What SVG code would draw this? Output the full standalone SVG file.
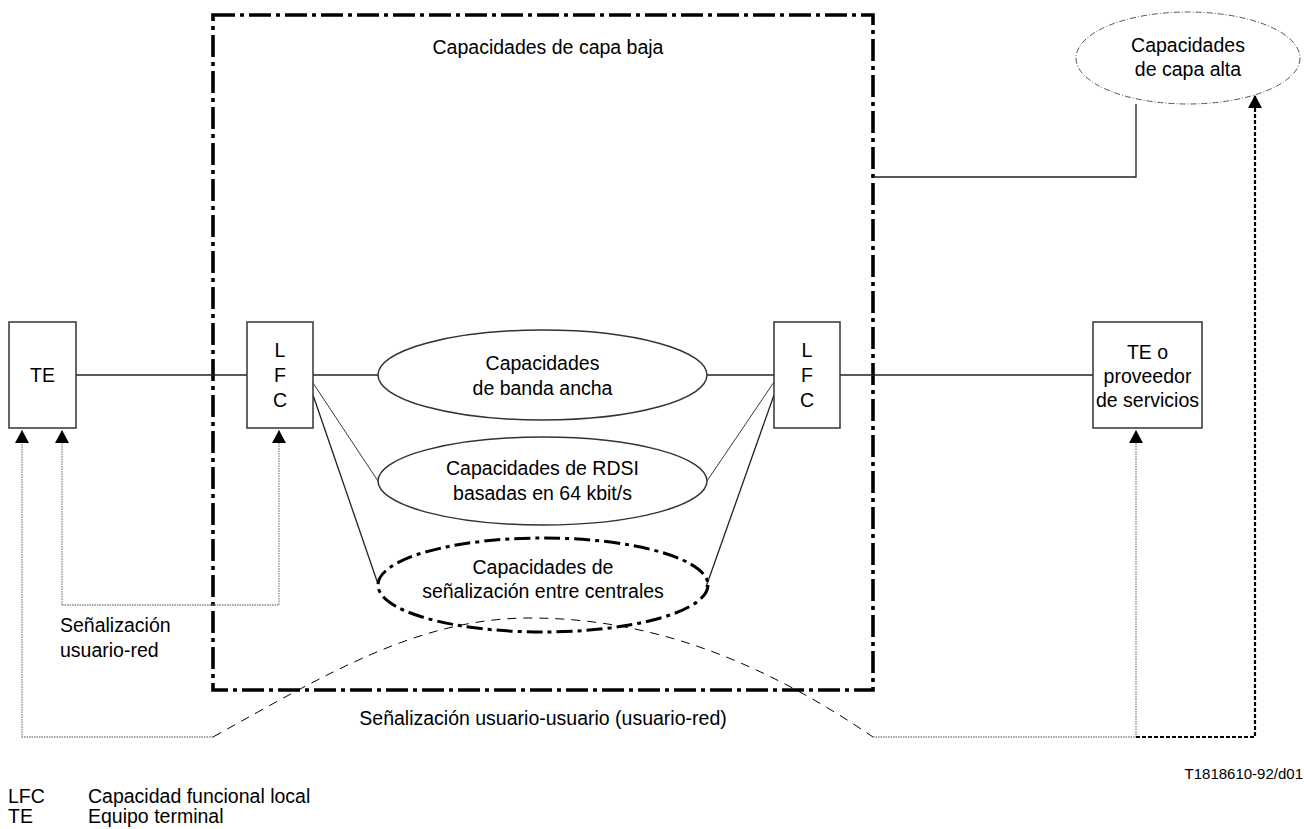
<svg xmlns="http://www.w3.org/2000/svg" width="1304" height="829" viewBox="0 0 1304 829">
<defs>
<marker id="ah" markerUnits="userSpaceOnUse" markerWidth="14" markerHeight="14" viewBox="0 0 14 14" refX="13" refY="7" orient="auto">
<path d="M0,0 L13,7 L0,14 Z" fill="#000"/>
</marker>
<style>
text{font-family:"Liberation Sans",Arial,sans-serif;font-size:19.5px;fill:#000}
.c{text-anchor:middle}
.box{fill:#fff;stroke:#333;stroke-width:1.5}
.ln{fill:none;stroke:#222;stroke-width:1.3}
.thin{fill:none;stroke:#222;stroke-width:0.9}
.dot{fill:none;stroke:#888;stroke-width:1.3;stroke-dasharray:1.5 1}
.dash{fill:none;stroke:#000;stroke-width:1;stroke-dasharray:9 7}
.bdash{fill:none;stroke:#000;stroke-width:2.2;stroke-dasharray:4 2}
.dd{fill:none;stroke:#000;stroke-width:3.6;stroke-dasharray:22 5 4 5}
.dde{fill:none;stroke:#000;stroke-width:3;stroke-dasharray:16 5 4 5}
.ddthin{fill:#fff;stroke:#555;stroke-width:1;stroke-dasharray:6 2 1 2}
</style>
</defs>
<rect width="1304" height="829" fill="#fff"/>

<g id="lowlayer">
<rect x="213" y="15" width="660" height="675" class="dd"/>
<text class="c" x="548" y="54">Capacidades de capa baja</text>
</g>

<g id="connectors">
<line x1="76" y1="375" x2="247" y2="375" class="ln"/>
<line x1="313" y1="375" x2="378" y2="375" class="ln"/>
<line x1="707" y1="375" x2="774" y2="375" class="ln"/>
<line x1="840" y1="375" x2="1093" y2="375" class="ln"/>
<line x1="313" y1="383" x2="378" y2="481" class="thin"/>
<line x1="313" y1="395" x2="378" y2="584" class="ln"/>
<line x1="774" y1="382" x2="707" y2="481" class="thin"/>
<line x1="774" y1="395" x2="706" y2="587" class="ln"/>
<polyline points="873,177 1136,177 1136,104" class="ln"/>
<polyline points="62,605 279,605 279,430" class="dot" marker-end="url(#ah)"/>
<line x1="62" y1="605" x2="62" y2="430" class="dot" marker-end="url(#ah)"/>
<polyline points="213,737 22,737 22,430" class="dot" marker-end="url(#ah)"/>
<path d="M213,737 C330,672 420,618 530,618 C650,618 760,660 873,737" class="dash"/>
<polyline points="873,737 1136,737 1136,430" class="dot" marker-end="url(#ah)"/>
<polyline points="1136,737 1255,737 1255,95" class="bdash" marker-end="url(#ah)"/>
</g>

<g id="te-left">
<rect x="9" y="322" width="67" height="106" class="box"/>
<text class="c" x="42.5" y="382">TE</text>
</g>

<g id="lfc-left">
<rect x="247" y="322" width="66" height="106" class="box"/>
<text class="c" x="280" y="357">L</text>
<text class="c" x="280" y="382">F</text>
<text class="c" x="280" y="407">C</text>
</g>

<g id="lfc-right">
<rect x="774" y="322" width="66" height="106" class="box"/>
<text class="c" x="807" y="357">L</text>
<text class="c" x="807" y="382">F</text>
<text class="c" x="807" y="407">C</text>
</g>

<g id="te-right">
<rect x="1093" y="322" width="109" height="106" class="box"/>
<text class="c" x="1147.5" y="359">TE o</text>
<text class="c" x="1147.5" y="383">proveedor</text>
<text class="c" x="1147.5" y="407">de servicios</text>
</g>

<g id="broadband">
<ellipse cx="542.5" cy="375" rx="164.5" ry="45" class="box"/>
<text class="c" x="542.5" y="370">Capacidades</text>
<text class="c" x="542.5" y="395">de banda ancha</text>
</g>

<g id="rdsi">
<ellipse cx="542.5" cy="481" rx="164.5" ry="44" class="box"/>
<text class="c" x="542.5" y="475">Capacidades de RDSI</text>
<text class="c" x="542.5" y="500">basadas en 64 kbit/s</text>
</g>

<g id="interexchange">
<ellipse cx="543" cy="585" rx="165" ry="47" class="dde"/>
<text class="c" x="543" y="574">Capacidades de</text>
<text class="c" x="543" y="598">señalización entre centrales</text>
</g>

<g id="highlayer">
<ellipse cx="1188" cy="58" rx="112" ry="46" class="ddthin"/>
<text class="c" x="1188" y="52">Capacidades</text>
<text class="c" x="1188" y="76">de capa alta</text>
</g>

<g id="labels">
<text x="60" y="632">Señalización</text>
<text x="60" y="657">usuario-red</text>
<text class="c" x="543" y="725">Señalización usuario-usuario (usuario-red)</text>
<text x="1303" y="779" style="font-size:15px;text-anchor:end">T1818610-92/d01</text>
<text x="8" y="803">LFC</text>
<text x="88" y="803">Capacidad funcional local</text>
<text x="8" y="823">TE</text>
<text x="88" y="823">Equipo terminal</text>
</g>
</svg>
